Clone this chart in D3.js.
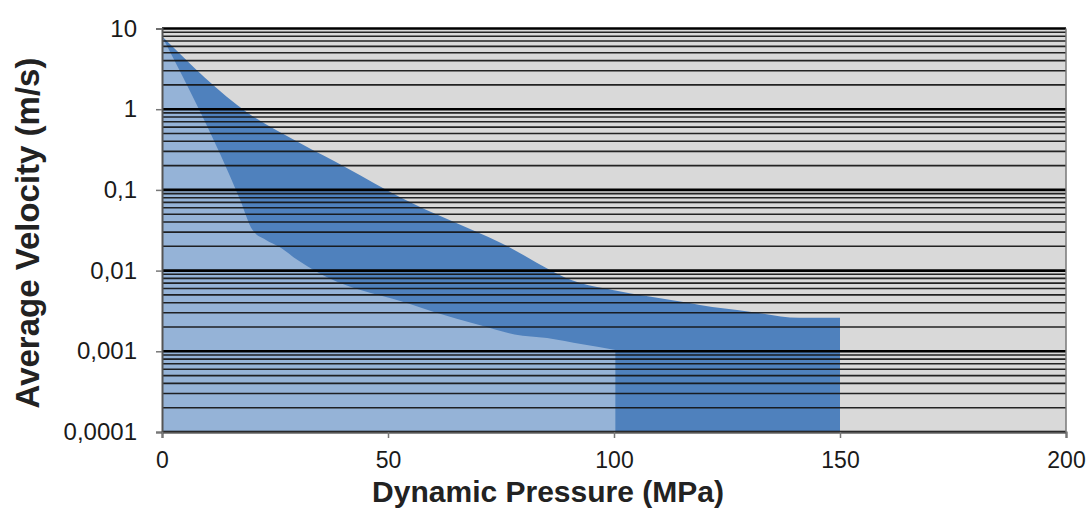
<!DOCTYPE html>
<html>
<head>
<meta charset="utf-8">
<script src="https://cdn.jsdelivr.net/npm/d3@7"></script>
<style>
  html, body { margin: 0; padding: 0; background: #fff; }
  svg { display: block; font-family: "Liberation Sans", Arial, sans-serif; }
</style>
</head>
<body>
<svg id="chart" width="1089" height="508"></svg>
<script>
// Data (Dynamic Pressure MPa, Average Velocity m/s)
const upperPressure = [0, 19, 30.5, 41, 52.7, 75, 92.5, 100, 115, 119, 130, 141, 150];
const upperVelocity = [8, 0.9, 0.38, 0.186, 0.081, 0.022, 0.0070, 0.0057, 0.0041, 0.00375, 0.0031, 0.0026, 0.0026];
const lowerPressure = [0, 17.3, 20, 23, 26, 30, 34.3, 40, 46, 52.7, 60, 70.4, 78, 85.2, 93, 100.3];
const lowerVelocity = [8, 0.075, 0.032, 0.024, 0.0196, 0.0135, 0.0096, 0.0068, 0.0053, 0.0042, 0.0031, 0.0021, 0.00162, 0.00146, 0.00122, 0.00104];
const xTicks = [0, 50, 100, 150, 200];
const yTicks = [10, 1, 0.1, 0.01, 0.001, 0.0001];
const yTickLabels = ["10", "1", "0,1", "0,01", "0,001", "0,0001"];
const xTitle = "Dynamic Pressure (MPa)";
const yTitle = "Average Velocity (m/s)";

(function () {
const svg = d3.select("#chart");
const pLeft = 162, pRight = 1066, pTop = 28.5, pBottom = 432;

const x = d3.scaleLinear().domain([0, 200]).range([pLeft, pRight]);
const y = d3.scaleLog().domain([0.0001, 10]).range([pBottom, pTop]);

// Plot background
svg.append("rect").attr("x", pLeft).attr("y", pTop)
  .attr("width", pRight - pLeft).attr("height", pBottom - pTop)
  .attr("fill", "#d9d9d9");

const area = d3.area()
  .curve(d3.curveMonotoneX)
  .x(d => x(d[0]))
  .y0(y(0.0001))
  .y1(d => y(d[1]));

const upperData = upperPressure.map((p, i) => [p, upperVelocity[i]]);
const lowerData = lowerPressure.map((p, i) => [p, lowerVelocity[i]]);

svg.append("path").datum(upperData).attr("d", area).attr("fill", "#4f81bd");
svg.append("path").datum(lowerData).attr("d", area).attr("fill", "#95b3d7");

// Gridlines: major and minor (log)
const gridVals = [];
for (let e = -4; e < 1; e++) {
  for (let m = 1; m <= 9; m++) gridVals.push({v: m * Math.pow(10, e), major: m === 1});
}
gridVals.push({v: 10, major: true});
svg.append("g").selectAll("line").data(gridVals).join("line")
  .attr("x1", pLeft).attr("x2", pRight)
  .attr("y1", d => y(d.v)).attr("y2", d => y(d.v))
  .attr("stroke", d => d.major ? "#000" : "#141414")
  .attr("stroke-width", d => d.major ? 2.6 : 1.6)
  .attr("stroke-opacity", d => d.major ? 1 : 0.92);

// Axes
const yAxis = d3.axisLeft(y).tickValues(yTicks)
  .tickFormat((d, i) => yTickLabels[i]).tickSize(6).tickPadding(19);
const gy = svg.append("g").attr("transform", `translate(${pLeft},0)`).call(yAxis);
gy.select(".domain").attr("stroke", "#555").attr("stroke-width", 2);
gy.selectAll(".tick line").attr("stroke", "#777").attr("stroke-width", 1.5);
gy.selectAll(".tick text").attr("font-size", 24).attr("fill", "#1a1a1a")
  .attr("font-family", "'Liberation Sans', Arial, sans-serif");

const xAxis = d3.axisBottom(x).tickValues(xTicks).tickSize(6).tickPadding(14);
const gx = svg.append("g").attr("transform", `translate(0,${pBottom})`).call(xAxis);
gx.select(".domain").attr("stroke", "#555").attr("stroke-width", 2);
gx.selectAll(".tick line").attr("stroke", "#777").attr("stroke-width", 1.5);
gx.selectAll(".tick text").attr("font-size", 23).attr("fill", "#1a1a1a")
  .attr("font-family", "'Liberation Sans', Arial, sans-serif");

// Right border
svg.append("line").attr("x1", pRight).attr("x2", pRight).attr("y1", pTop).attr("y2", pBottom)
  .attr("stroke", "#777").attr("stroke-width", 1.5);

// Titles
svg.append("text").attr("x", 548).attr("y", 502)
  .attr("text-anchor", "middle").attr("font-size", 30).attr("font-weight", "bold")
  .attr("fill", "#222").text(xTitle);

svg.append("text")
  .attr("transform", "translate(39,233) rotate(-90)")
  .attr("text-anchor", "middle").attr("font-size", 33).attr("font-weight", "bold")
  .attr("fill", "#222").text(yTitle);
})();
</script>
</body>
</html>
